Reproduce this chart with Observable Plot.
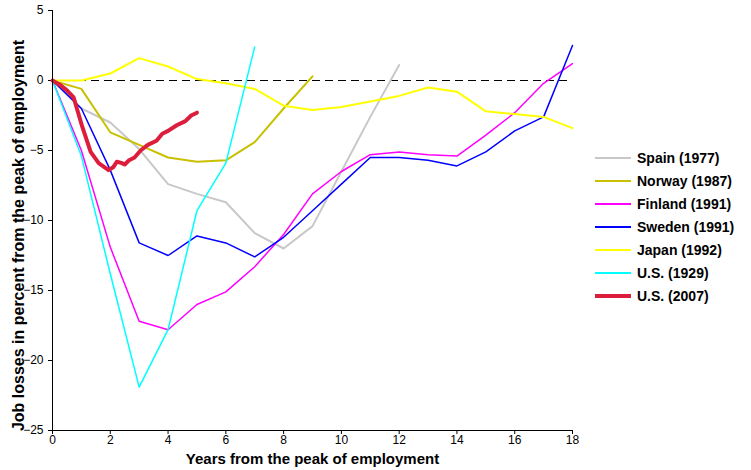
<!DOCTYPE html>
<html><head><meta charset="utf-8">
<script src="https://cdn.jsdelivr.net/npm/d3@7"></script>
<script src="https://cdn.jsdelivr.net/npm/@observablehq/plot@0.6"></script>
<style>
body{margin:0;background:#fff;font-family:Arial,"Liberation Sans",sans-serif}
#wrap{position:relative;width:751px;height:470px}
#legend{position:absolute;left:595px;top:146px;font-size:14px;font-weight:bold}
#legend div{height:23px;display:flex;align-items:center}
#legend span{display:inline-block;width:36px;margin-right:6px}
</style></head><body>
<div id="wrap"><div id="chart"></div><div id="legend"></div></div>
<script>
const years = d3.range(0, 19)
const spain = [0,-2,-3,-4.9,-7.4,-8.1,-8.7,-10.9,-12,-10.4,-6.5,-2.6,1.1]
const norway = [0,-0.6,-3.7,-4.6,-5.5,-5.8,-5.7,-4.4,-2.0,0.3]
const finland = [0,-5,-11.9,-17.2,-17.8,-16,-15.1,-13.3,-11,-8.1,-6.5,-5.3,-5.1,-5.3,-5.4,-3.9,-2.3,-0.2,1.2]
const sweden = [0,-2,-6.4,-11.6,-12.5,-11.1,-11.6,-12.6,-11.2,-9.3,-7.4,-5.5,-5.5,-5.7,-6.1,-5.1,-3.6,-2.6,2.5]
const japan = [0,0,0.5,1.6,1.0,0.1,-0.2,-0.6,-1.8,-2.1,-1.9,-1.5,-1.1,-0.5,-0.8,-2.2,-2.4,-2.6,-3.4]
const us1929 = [0,-5.4,-13.8,-21.9,-17.8,-9.3,-5.9,2.4]
const us2007t = [0,0.25,0.5,0.73,1.03,1.32,1.6,1.94,2.1,2.23,2.4,2.5,2.65,2.84,3.05,3.3,3.6,3.8,4.0,4.3,4.6,4.8,5.0]
const us2007 = [0,-0.3,-0.7,-1.2,-3.3,-5.1,-5.9,-6.4,-6.2,-5.8,-5.9,-6.0,-5.7,-5.5,-5.0,-4.6,-4.3,-3.8,-3.6,-3.2,-2.9,-2.5,-2.3]

const series = [
  {name:"Spain (1977)", values:spain, color:"#c8c8c8", w:2},
  {name:"Norway (1987)", values:norway, color:"#c8c000", w:2},
  {name:"Finland (1991)", values:finland, color:"#ff00ff", w:1.5},
  {name:"Sweden (1991)", values:sweden, color:"#0000ff", w:1.5},
  {name:"Japan (1992)", values:japan, color:"#ffff00", w:2},
  {name:"U.S. (1929)", values:us1929, color:"#00ffff", w:1.5},
  {name:"U.S. (2007)", values:us2007, t:us2007t, color:"#dc1e3c", w:4}
]

const marks = [
  Plot.ruleY([0], {stroke:"#000", strokeDasharray:"8,5", strokeWidth:1})
]
for (const s of series) {
  const data = s.values.map((v,i) => ({x: s.t ? s.t[i] : years[i], y: v}))
  marks.push(Plot.line(data, {x:"x", y:"y", stroke:s.color, strokeWidth:s.w}))
}
marks.push(Plot.ruleX([0], {stroke:"#000"}), Plot.ruleY([-25], {stroke:"#000"}))

const chart = Plot.plot({
  width: 751, height: 470,
  marginLeft: 52, marginTop: 10, marginBottom: 40, marginRight: 179,
  style: {fontSize:"12px", fontFamily:"Arial, 'Liberation Sans', sans-serif", color:"#000"},
  x: {domain:[0,18], ticks:d3.range(0,19,2), tickSize:4, tickPadding:1, label:null},
  y: {domain:[-25,5], ticks:d3.range(-25,6,5), tickSize:4, label:null},
  marks: [
    ...marks,
    Plot.text(["Years from the peak of employment"], {frameAnchor:"bottom", dy:33, fontWeight:"bold", fontSize:15}),
    Plot.text(["Job losses in percent from the peak of employment"], {frameAnchor:"left", textAnchor:"middle", dx:-34, dy:15, rotate:-90, fontWeight:"bold", fontSize:16})
  ]
})
d3.select('#chart').append(() => chart)

const leg = d3.select('#legend')
for (const s of series) {
  const row = leg.append('div')
  row.append('span').style('border-top', `${Math.max(2,s.w)}px solid ${s.color}`)
  row.append('text').text(s.name)
}
</script></body></html>
